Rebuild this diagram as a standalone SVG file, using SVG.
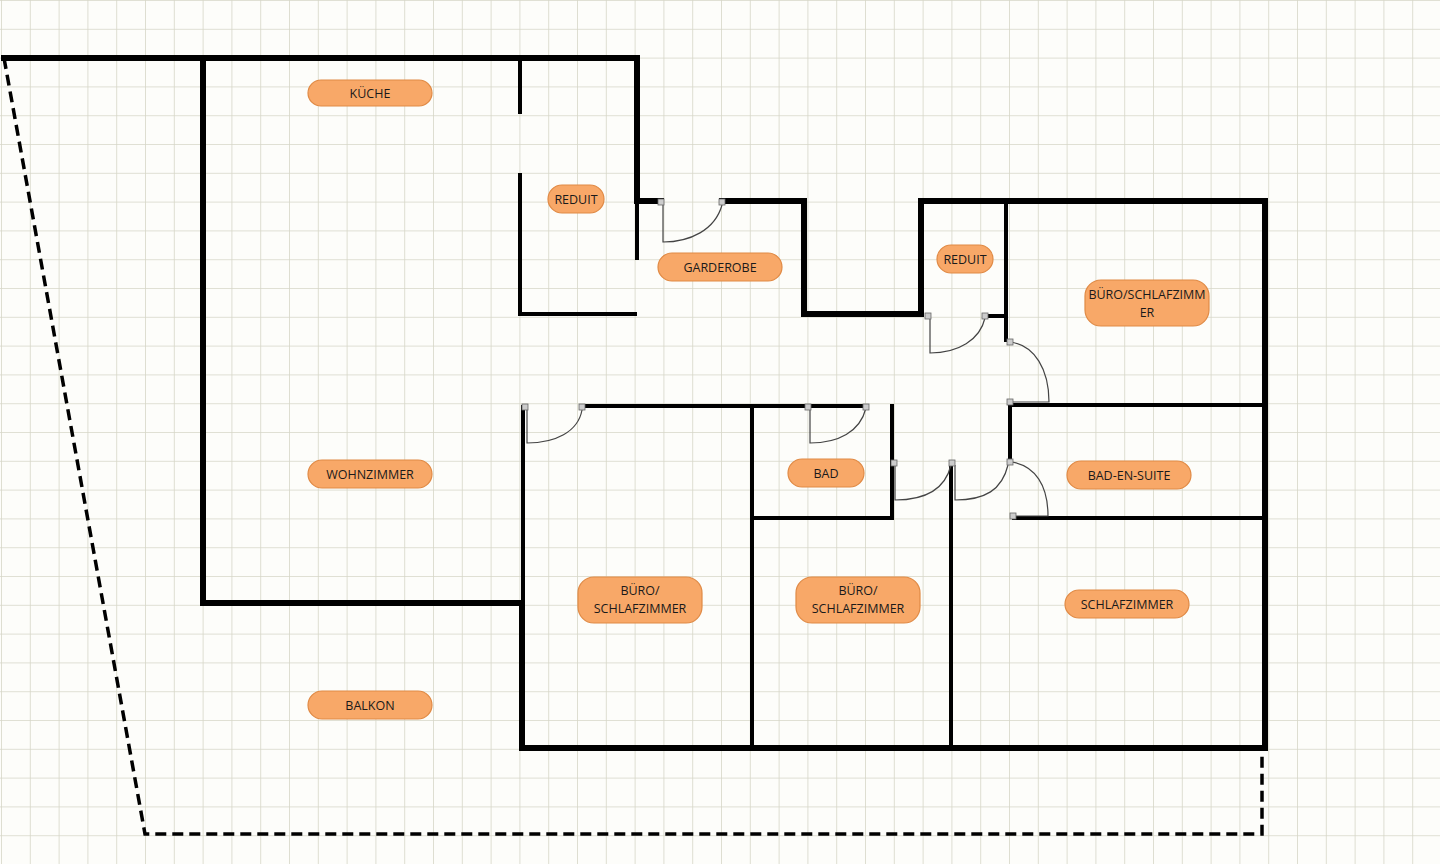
<svg xmlns="http://www.w3.org/2000/svg" width="1440" height="864" viewBox="0 0 1440 864">
<defs>
<pattern id="grid" width="28.8" height="28.8" patternUnits="userSpaceOnUse" x="2" y="1">
<path d="M28.8 0V28.8M0 28.8H28.8" fill="none" stroke="#d6d6c8" stroke-width="1.6"/>
</pattern>
<style>
.w{stroke:#000;stroke-width:6;fill:none;stroke-linecap:square}
.t{stroke:#000;stroke-width:4;fill:none;stroke-linecap:square}
.d{stroke:#444;stroke-width:1.2;fill:none}
.h{fill:#ccc;stroke:#666;stroke-width:0.8}
.p{fill:#f8a868;stroke:#e08a45;stroke-width:1.2}
.l{font-family:"Open Sans","Liberation Sans",sans-serif;font-size:12.5px;fill:#1a1a1a;text-anchor:middle}
</style>
</defs>
<rect width="1440" height="864" fill="#fdfdfa"/>
<rect width="1440" height="864" fill="url(#grid)"/>
<g id="connectors">
<path d="M4 58L145 834H1262V750" fill="none" stroke="#000" stroke-width="3.5" stroke-dasharray="11 6"/>
<path class="w" d="M4 58H637V201H661M722 201H804V314H921V201H1265V748H522V603H203V58"/>
<path class="t" d="M520 58V112M520 175V314H635M637 201V258"/>
<path class="t" d="M1006 201V340M985 316H1006M1010 405H1265M1010 405V460M1014 518H1265"/>
<path class="t" d="M523 407V603M582 406H866M752 406V748M892 406V518H752M951 462V748"/>
<path class="d" d="M663 205V242C690 242 715 230 722 205"/>
<path class="d" d="M930 318V353C958 353 980 340 985 318"/>
<path class="d" d="M1010 342C1035 345 1049 370 1049 402H1012"/>
<path class="d" d="M1012 462C1035 466 1048 485 1048 516H1014"/>
<path class="d" d="M527 410V443C555 443 578 432 582 410"/>
<path class="d" d="M810 408V443C838 443 860 432 866 408"/>
<path class="d" d="M895 465V500C925 500 945 490 951 465"/>
<path class="d" d="M955 465V500C985 500 1002 490 1008 465"/>
<rect class="h" x="658" y="199" width="6" height="6"/><rect class="h" x="719" y="199" width="6" height="6"/>
<rect class="h" x="925" y="313" width="6" height="6"/><rect class="h" x="982" y="313" width="6" height="6"/>
<rect class="h" x="1007" y="339" width="6" height="6"/><rect class="h" x="1007" y="399" width="6" height="6"/>
<rect class="h" x="1007" y="459" width="6" height="6"/><rect class="h" x="1010" y="513" width="6" height="6"/>
<rect class="h" x="522" y="404" width="6" height="6"/><rect class="h" x="579" y="404" width="6" height="6"/>
<rect class="h" x="805" y="404" width="6" height="6"/><rect class="h" x="863" y="404" width="6" height="6"/>
<rect class="h" x="891" y="460" width="6" height="6"/><rect class="h" x="949" y="460" width="6" height="6"/>
</g>
<g id="kueche"><rect class="p" x="308" y="80" width="124" height="26" rx="13"/><text class="l" x="370" y="98">KÜCHE</text></g>
<g id="reduit1"><rect class="p" x="548" y="185" width="56" height="28" rx="14"/><text class="l" x="576" y="204">REDUIT</text></g>
<g id="garderobe"><rect class="p" x="658" y="253" width="124" height="28" rx="14"/><text class="l" x="720" y="272">GARDEROBE</text></g>
<g id="reduit2"><rect class="p" x="937" y="245" width="56" height="28" rx="14"/><text class="l" x="965" y="264">REDUIT</text></g>
<g id="buero1"><rect class="p" x="1085" y="280" width="124" height="46" rx="16"/><text class="l" x="1147" y="299">BÜRO/SCHLAFZIMM</text><text class="l" x="1147" y="317">ER</text></g>
<g id="wohnzimmer"><rect class="p" x="308" y="460" width="124" height="28" rx="14"/><text class="l" x="370" y="479">WOHNZIMMER</text></g>
<g id="bad"><rect class="p" x="788" y="459" width="76" height="28" rx="14"/><text class="l" x="826" y="478">BAD</text></g>
<g id="badensuite"><rect class="p" x="1067" y="461" width="124" height="28" rx="14"/><text class="l" x="1129" y="480">BAD-EN-SUITE</text></g>
<g id="buero2"><rect class="p" x="578" y="577" width="124" height="46" rx="16"/><text class="l" x="640" y="595">BÜRO/</text><text class="l" x="640" y="613">SCHLAFZIMMER</text></g>
<g id="buero3"><rect class="p" x="796" y="577" width="124" height="46" rx="16"/><text class="l" x="858" y="595">BÜRO/</text><text class="l" x="858" y="613">SCHLAFZIMMER</text></g>
<g id="schlafzimmer"><rect class="p" x="1065" y="590" width="124" height="28" rx="14"/><text class="l" x="1127" y="609">SCHLAFZIMMER</text></g>
<g id="balkon"><rect class="p" x="308" y="691" width="124" height="28" rx="14"/><text class="l" x="370" y="710">BALKON</text></g>
</svg>
